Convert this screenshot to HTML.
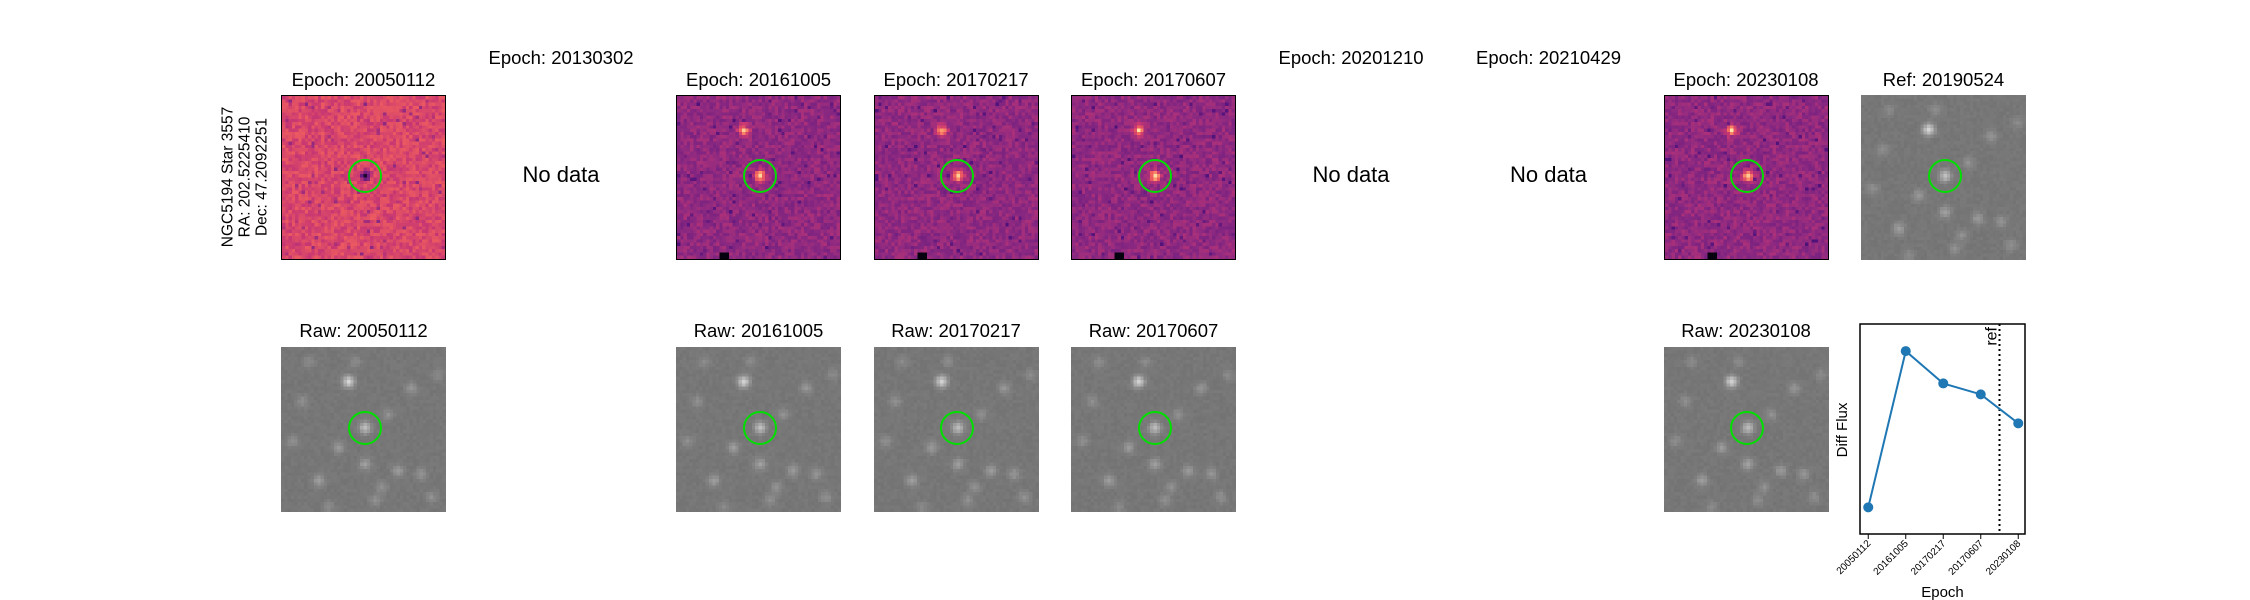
<!DOCTYPE html>
<html><head><meta charset="utf-8">
<style>
body{margin:0;background:#fff;width:2250px;height:600px;overflow:hidden;position:relative;font-family:"Liberation Sans","DejaVu Sans",sans-serif;}
.t{position:absolute;font-size:18.5px;color:#000;white-space:nowrap;transform:translate(-50%,-50%);}
.nd{position:absolute;font-size:22px;white-space:nowrap;transform:translate(-50%,-50%);}
.img{position:absolute;width:165px;height:165px;}
.img canvas{width:100%;height:100%;image-rendering:pixelated;display:block;}
.frame{box-sizing:border-box;border:1.5px solid #000;}
.circ{position:absolute;left:50%;top:50%;width:30px;height:30px;margin:-19px 0 0 -16px;border:2px solid #00e000;border-radius:50%;}
</style></head><body>
<div id="root"></div>
<div class="t" style="left:245px;top:177px;transform:translate(-50%,-50%) rotate(-90deg);text-align:center;font-size:15.5px;line-height:17px;">NGC5194 Star 3557<br>RA: 202.5225410<br>Dec: 47.2092251</div>
<svg id="plot" style="position:absolute;left:0;top:0" width="2250" height="600"></svg>
<script>
const root=document.getElementById('root');
const col=i=>281+197.5*i;
const epochs=['20050112','20130302','20161005','20170217','20170607','20201210','20210429','20230108'];
const hasData=[1,0,1,1,1,0,0,1];
let seed=7;function rnd(){seed=(seed*16807)%2147483647;return seed/2147483647;}
function magma(t){t=Math.max(0,Math.min(1,t));const s=[[0,[0,0,4]],[0.25,[81,18,124]],[0.45,[140,41,129]],[0.6,[200,55,114]],[0.75,[241,96,93]],[0.88,[254,159,109]],[1,[252,253,191]]];for(let i=1;i<s.length;i++){if(t<=s[i][0]){const a=s[i-1],b=s[i],f=(t-a[0])/(b[0]-a[0]);return a[1].map((v,k)=>Math.round(v+(b[1][k]-v)*f));}}return s[6][1];}
const stars=[[20,10,.9],[25,24,.7],[11,40,.4],[39,12,.3],[17,30,.35],[35,37,.35],[25,35,.4],[42,38,.3],[3,28,.25],[28,46,.25],[32,20,.25],[45,45,.25],[6,16,.25],[8,4,.2],[47,8,.2],[22,4,.2],[30,42,.25],[14,48,.2]];
function draw(cv,kind,base){const c=cv.getContext('2d');const im=c.createImageData(50,50);
for(let y=0;y<50;y++)for(let x=0;x<50;x++){let v,rgb;
 if(kind==='gray'){v=0.45+rnd()*0.03;for(const s of stars){const d=(x-s[0])**2+(y-s[1])**2;v+=s[2]*0.4*Math.exp(-d/3);}v=Math.min(1,v);const g=Math.round(v*255);rgb=[g,g,g];}
 else{v=base+(rnd()-0.5)*0.14;if(rnd()<0.03)v-=0.15;
  if(kind==='mag'){for(const s of [[20,10,.45],[25,24,.5]]){const d=(x-s[0])**2+(y-s[1])**2;v+=s[2]*Math.exp(-d/2.5);}if(x>12&&x<16&&y>47)v=0.02;}
  if(kind==='mag0'){const d=(x-25)**2+(y-24)**2;v-=0.5*Math.exp(-d/2);}
  rgb=magma(v);}
 const i=(y*50+x)*4;im.data[i]=rgb[0];im.data[i+1]=rgb[1];im.data[i+2]=rgb[2];im.data[i+3]=255;}
c.putImageData(im,0,0);}
function panel(x,y,kind,base,name){const d=document.createElement('div');d.className='img'+(kind==='gray'?'':' frame');d.style.left=x+'px';d.style.top=y+'px';


const cv=document.createElement('canvas');cv.width=50;cv.height=50;d.appendChild(cv);draw(cv,kind,base);
const ci=document.createElement('div');ci.className='circ';


d.appendChild(ci);root.appendChild(d);}
function label(x,y,txt,cls,name){const e=document.createElement('div');e.className=cls;e.style.left=x+'px';e.style.top=y+'px';e.textContent=txt;


root.appendChild(e);}
epochs.forEach((ep,i)=>{const x=col(i);
 if(hasData[i]){label(x+82.5,80,'Epoch: '+ep,'t','epoch-title');panel(x,95,i===0?'mag0':'mag',i===0?0.66:0.46,'diff-image');
  label(x+82.5,331,'Raw: '+ep,'t','raw-title');panel(x,347,'gray',0,'raw-image');}
 else{label(x+82.5,58,'Epoch: '+ep,'t','epoch-title');label(x+82.5,175,'No data','nd','no-data-label');}
});
label(col(8)+82.5,80,'Ref: 20190524','t','ref-title');panel(col(8),95,'gray',0,'ref-image');

// chart
const cats=['20050112','20161005','20170217','20170607','20230108'];
const flux=[12.7,87.1,71.7,66.5,52.7];
const refPos=3.5;
const X0=1860,X1=2025,Y0=534,Y1=324;
const xs=v=>X0+(v+0.22)/(4.4)*(X1-X0);
const ys=v=>Y0-(v/100)*(Y0-Y1);
const svg=document.getElementById('plot');const NS='http://www.w3.org/2000/svg';
function el(t,a,txt){const e=document.createElementNS(NS,t);for(const k in a)e.setAttribute(k,a[k]);if(txt)e.textContent=txt;svg.appendChild(e);return e;}
let r=el('rect',{x:X0,y:Y1,width:X1-X0,height:Y0-Y1,fill:'none',stroke:'#000','stroke-width':1.5});


let rl=el('line',{x1:xs(refPos),x2:xs(refPos),y1:Y1,y2:Y0,stroke:'#000','stroke-width':2,'stroke-dasharray':'2,3'});


let rt=el('text',{x:0,y:0,'font-size':16,'text-anchor':'end',transform:`translate(${xs(refPos)-3},${Y1+3}) rotate(-90)`},'ref');


let ln=el('polyline',{points:flux.map((v,i)=>xs(i)+','+ys(v)).join(' '),fill:'none',stroke:'#1f77b4','stroke-width':2});


flux.forEach((v,i)=>{const c=el('circle',{cx:xs(i),cy:ys(v),r:5,fill:'#1f77b4'});


const tk=el('line',{x1:xs(i),x2:xs(i),y1:Y0,y2:Y0+5,stroke:'#000'});


const tl=el('text',{'font-size':10,'text-anchor':'end',transform:`translate(${xs(i)+3},${Y0+10}) rotate(-45)`},cats[i]);

});
let xl=el('text',{x:(X0+X1)/2,y:597,'font-size':15,'text-anchor':'middle'},'Epoch');


let yl=el('text',{'font-size':15,'text-anchor':'middle',transform:`translate(1847,430) rotate(-90)`},'Diff Flux');


</script>
</body></html>
